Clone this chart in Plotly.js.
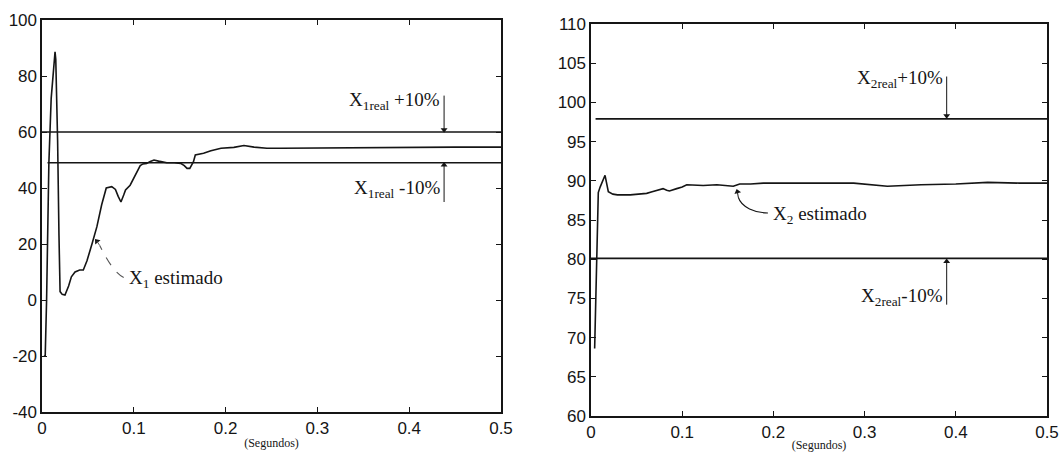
<!DOCTYPE html>
<html>
<head>
<meta charset="utf-8">
<script src="https://cdn.plot.ly/plotly-3.0.1.min.js"></script>
<style>
  html, body { margin: 0; padding: 0; background: #ffffff; }
  #chart { width: 1062px; height: 452px; }
</style>
</head>
<body>
<div id="chart"></div>
<script>
// Estimated state X1 over time (seconds)
const t1 = [0.002, 0.0035, 0.005, 0.0075, 0.010, 0.012, 0.0142, 0.015, 0.017, 0.0185, 0.0197, 0.022, 0.025,
  0.029, 0.032, 0.036, 0.041, 0.045, 0.049, 0.0546, 0.0598, 0.065, 0.070, 0.076, 0.080, 0.083, 0.086,
  0.089, 0.091, 0.096, 0.102, 0.107, 0.110, 0.114, 0.118, 0.122, 0.127, 0.132, 0.136, 0.144, 0.151,
  0.155, 0.158, 0.161, 0.165, 0.167, 0.172, 0.176, 0.184, 0.195, 0.209, 0.220, 0.231, 0.245, 0.26,
  0.29, 0.33, 0.37, 0.41, 0.45, 0.5];
const x1 = [-20, -20, 0, 49, 72, 80, 88.6, 86, 57, 23, 3, 2, 1.8,
  5, 8.3, 10, 10.7, 10.7, 14, 20.2, 26.2, 34, 40, 40.5, 39.5, 37, 35,
  37.5, 39.3, 41, 44.6, 48, 48.6, 48.8, 49.5, 50, 49.6, 49.2, 49, 49, 48.8,
  48, 47, 47, 49.4, 51.8, 52, 52.4, 53.3, 54.2, 54.5, 55.2, 54.6, 54.2, 54.2,
  54.3, 54.2, 54.4, 54.6, 54.6, 54.6];

// Estimated state X2 over time (seconds)
const t2 = [0.004, 0.006, 0.008, 0.010, 0.013, 0.0154, 0.019, 0.024, 0.029, 0.036, 0.043, 0.052, 0.061,
  0.067, 0.072, 0.079, 0.083, 0.086, 0.094, 0.100, 0.105, 0.115, 0.123, 0.138, 0.150, 0.156, 0.163,
  0.175, 0.189, 0.215, 0.25, 0.288, 0.325, 0.362, 0.40, 0.435, 0.47, 0.5];
const x2 = [68.6, 80, 88.5, 89.2, 90, 90.7, 88.6, 88.3, 88.2, 88.2, 88.2, 88.3, 88.4,
  88.6, 88.8, 89.0, 88.8, 88.7, 89.0, 89.2, 89.5, 89.4, 89.4, 89.5, 89.4, 89.3, 89.6,
  89.6, 89.7, 89.7, 89.7, 89.7, 89.3, 89.5, 89.6, 89.8, 89.7, 89.7];

// ±10% bands around the real values (X1real ≈ 54.5, X2real ≈ 89)
const band1Upper = [60, 60];
const band1Lower = [49, 49];
const band1UpperT = [0, 0.5];
const band1LowerT = [0.006, 0.5];
const band2Upper = [97.9, 97.9];
const band2Lower = [80.1, 80.1];
const band2UpperT = [0.005, 0.5];
const band2LowerT = [0, 0.5];

// Tick labels
const xTicks = [0, 0.1, 0.2, 0.3, 0.4, 0.5];
const xTickText = ['0', '0.1', '0.2', '0.3', '0.4', '0.5'];
const y1Ticks = [-40, -20, 0, 20, 40, 60, 80, 100];
const y1TickText = ['-40', '-20', '0', '20', '40', '60', '80', '100'];
const y2Ticks = [60, 65, 70, 75, 80, 85, 90, 95, 100, 105, 110];
const y2TickText = ['60', '65', '70', '75', '80', '85', '90', '95', '100', '105', '110'];

const ink = '#151515';
const serif = 'Liberation Serif, Times New Roman, serif';
const sans = 'Liberation Sans, Arial, sans-serif';

function line(x, y, xa, ya) {
  return { x: x, y: y, xaxis: xa, yaxis: ya, type: 'scatter', mode: 'lines',
    line: { color: ink, width: 1.6 }, hoverinfo: 'skip', showlegend: false };
}

// pointer arrows: shaft from tail to tip, head drawn as a rotated triangle marker at the tip
const pointers = [
  // [xa, ya, xTail, yTail, xTip, yTip, headAngle(deg, 0 = up), shaftColor]
  ['x', 'y', 0.438, 73, 0.438, 60.8, 180, ink],
  ['x', 'y', 0.438, 35, 0.438, 48.2, 0, ink],
  ['x2', 'y2', 0.390, 103.3, 0.390, 98.3, 180, ink],
  ['x2', 'y2', 0.390, 74.2, 0.390, 79.7, 0, ink],
  ['x', 'y', 0.063, 19.4, 0.0598, 21.0, -40, '#555555'],
  ['x2', 'y2', 0.1615, 87.9, 0.1605, 88.6, -15, ink]
];

const data = [
  line(band1UpperT, band1Upper, 'x', 'y'),
  line(band1LowerT, band1Lower, 'x', 'y'),
  line(t1, x1, 'x', 'y'),
  line(band2UpperT, band2Upper, 'x2', 'y2'),
  line(band2LowerT, band2Lower, 'x2', 'y2'),
  line(t2, x2, 'x2', 'y2')
];

const shapes = [];
pointers.forEach(function (p) {
  shapes.push({ type: 'line', xref: p[0], yref: p[1], x0: p[2], y0: p[3], x1: p[4], y1: p[5],
    line: { color: p[7], width: 1 } });
  data.push({ x: [p[4]], y: [p[5]], xaxis: p[0], yaxis: p[1], type: 'scatter', mode: 'markers',
    marker: { symbol: 'triangle-up', size: 6, angle: p[6], color: ink, line: { width: 0 } },
    hoverinfo: 'skip', showlegend: false, cliponaxis: false });
});

// curved leader lines from the "estimado" labels towards the curves
shapes.push(
  { type: 'path', xref: 'x', yref: 'y', path: 'M 0.089 8.0 C 0.080 9.5, 0.072 13.5, 0.063 19.4',
    line: { color: '#555555', width: 1.1, dash: 'dash' } },
  { type: 'path', xref: 'x2', yref: 'y2', path: 'M 0.194 85.9 C 0.180 85.9, 0.165 86.6, 0.1615 87.9',
    line: { color: ink, width: 1.1 } }
);

function xAxis(domain, anchor) {
  return {
    domain: domain, anchor: anchor, range: [0, 0.5],
    tickvals: xTicks, ticktext: xTickText,
    ticks: 'inside', ticklen: 5, tickwidth: 1, tickcolor: ink,
    showline: true, linecolor: ink, linewidth: 1.6, mirror: 'ticks',
    showgrid: false, zeroline: false,
    tickfont: { family: sans, size: 17, color: ink },
    title: { text: '(Segundos)', font: { family: serif, size: 12, color: ink }, standoff: 1 }
  };
}
function yAxis(domain, anchor, range, vals, text) {
  return {
    domain: domain, anchor: anchor, range: range,
    tickvals: vals, ticktext: text,
    ticks: 'inside', ticklen: 5, tickwidth: 1, tickcolor: ink,
    showline: true, linecolor: ink, linewidth: 1.6, mirror: 'ticks',
    showgrid: false, zeroline: false,
    tickfont: { family: sans, size: 17, color: ink }
  };
}

function label(text, x, y, xa, ya, anchor) {
  return { text: text, x: x, y: y, xref: xa, yref: ya, xanchor: anchor, yanchor: 'middle',
    showarrow: false, font: { family: serif, size: 19, color: ink } };
}

const annotations = [
  label('X<sub>1real</sub> +10%', 0.436, 71, 'x', 'y', 'right'),
  label('X<sub>1real</sub> -10%', 0.436, 39.5, 'x', 'y', 'right'),
  label('X<sub>1</sub> estimado', 0.093, 7.5, 'x', 'y', 'left'),
  label('X<sub>2real</sub>+10%', 0.388, 103.0, 'x2', 'y2', 'right'),
  label('X<sub>2real</sub>-10%', 0.388, 75.2, 'x2', 'y2', 'right'),
  label('X<sub>2</sub> estimado', 0.197, 85.7, 'x2', 'y2', 'left')
];

const layout = {
  width: 1062, height: 452,
  margin: { l: 0, r: 0, t: 0, b: 0 },
  paper_bgcolor: '#ffffff', plot_bgcolor: '#ffffff',
  showlegend: false,
  xaxis: xAxis([42 / 1062, 501 / 1062], 'y'),
  yaxis: yAxis([1 - 412 / 452, 1 - 20 / 452], 'x', [-40, 100], y1Ticks, y1TickText),
  xaxis2: xAxis([591 / 1062, 1047 / 1062], 'y2'),
  yaxis2: yAxis([1 - 416 / 452, 1 - 24 / 452], 'x2', [60, 110], y2Ticks, y2TickText),
  annotations: annotations,
  shapes: shapes
};

Plotly.newPlot('chart', data, layout, { staticPlot: true, displayModeBar: false });
</script>
</body>
</html>
